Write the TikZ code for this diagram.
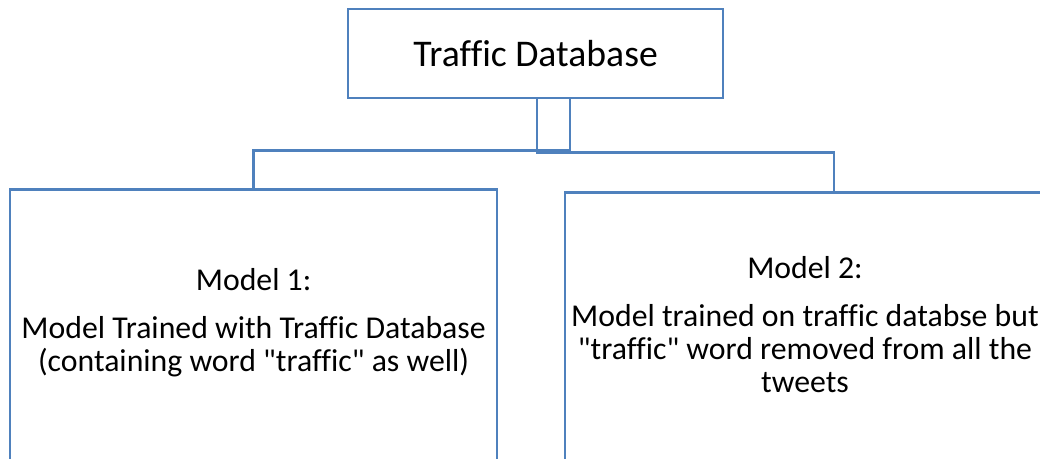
\documentclass[tikz,border=0pt]{standalone}
\usepackage{fontspec}
\setmainfont{Carlito}[Ligatures=NoCommon]
\usetikzlibrary{positioning,calc}
\definecolor{boxblue}{RGB}{79,129,189}
\def\boxlw{1.8pt}
\def\topwid{9.375cm}
\def\tophgt{2.225cm}
\def\modelhgt{9.0cm}

\begin{document}
\begin{tikzpicture}[
            topbox/.style={%
                rectangle, draw=boxblue, line width=\boxlw,%
                minimum width=\topwid, minimum height=\tophgt,%
                text centered, font=\fontsize{26.8}{31}\selectfont%
            },
            modelbox/.style={%
                rectangle, draw=boxblue, line width=\boxlw,%
                anchor=north, minimum height=\modelhgt%
            },
            modeltext/.style={%
                align=center, inner sep=0pt,%
                font=\fontsize{22.6}{23.5}\selectfont%
            },
            link/.style={draw=boxblue, line width=\boxlw}
        ]

        \useasboundingbox (0,0) rectangle (26,-11.45);
        \clip (0,0) rectangle (26,-11.45);

        % Define nodes
        \node (database) [topbox] at (13.39,-1.3375) {Traffic Database};

        \node (model1) [modelbox, minimum width=12.175cm] at (6.3375,-4.7) {};
        \node (model2) [modelbox, minimum width=13.45cm] at (20.85,-4.775) {};

        \node (model1text) [modeltext] at (6.34,-8.06) {%
            Model 1:\\[0.37cm]
            Model Trained with Traffic Database\\
            (containing word \textquotedbl traffic\textquotedbl{} as well)
        };
        \node (model2text) [modeltext] at (20.125,-8.125) {%
            Model 2:\\[0.37cm]
            Model trained on traffic databse but\\
            \textquotedbl traffic\textquotedbl{} word removed from all the\\
            tweets
        };

        % connectors
        \coordinate (splitleft) at ($(database.south)+(0.86,0)$);
        \coordinate (splitright) at ($(database.south)+(0.035,0)$);

        \draw [link] (splitleft) -- ++(0,-1.275) -| (model1.north);
        \draw [link] (splitright) -- ++(0,-1.325) -| (model2.north);

        \end{tikzpicture}
\end{document}
